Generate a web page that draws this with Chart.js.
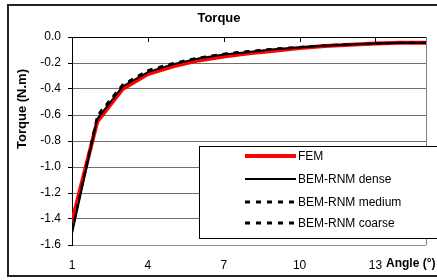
<!DOCTYPE html>
<html>
<head>
<meta charset="utf-8">
<script src="https://cdn.jsdelivr.net/npm/chart.js@4"></script>
<style>
	html, body { margin: 0; padding: 0; background: #fff; }
	#wrap { width: 437px; height: 280px; }
</style>
</head>
<body>
<div id="wrap"><canvas id="torqueChart" width="437" height="280"></canvas></div>
<script>
// Torque vs angle
const angles = [1, 2, 3, 4, 5, 6, 7, 8, 9, 10, 11, 12, 13, 14, 15];
const fem = [-1.42, -0.65, -0.40, -0.285, -0.225, -0.18, -0.15, -0.125, -0.105, -0.085, -0.07, -0.06, -0.05, -0.045, -0.045];
const dense = [-1.51, -0.63, -0.38, -0.27, -0.21, -0.165, -0.135, -0.115, -0.095, -0.08, -0.068, -0.058, -0.05, -0.045, -0.045];
const medium = [-1.50, -0.61, -0.37, -0.26, -0.205, -0.16, -0.13, -0.11, -0.09, -0.077, -0.065, -0.055, -0.05, -0.045, -0.045];
const coarse = [-1.49, -0.60, -0.365, -0.255, -0.20, -0.158, -0.128, -0.108, -0.09, -0.077, -0.065, -0.055, -0.05, -0.045, -0.045];
const seriesNames = ['FEM', 'BEM-RNM dense', 'BEM-RNM medium', 'BEM-RNM coarse'];
const xTicks = [1, 4, 7, 10, 13];
const yTicks = [0, -0.2, -0.4, -0.6, -0.8, -1.0, -1.2, -1.4, -1.6];

const FONT = '"Liberation Sans", Arial, sans-serif';
const pts = arr => angles.map((a, i) => ({ x: a, y: arr[i] }));

// frame, title, axis titles, top ticks, legend box
const decor = {
	id: 'decor',
	beforeDraw(chart) {
		const c = chart.ctx;
		c.save();
		c.fillStyle = '#fff';
		c.fillRect(0, 0, chart.width, chart.height);
		c.strokeStyle = '#222';
		c.lineWidth = 2;
		c.strokeRect(8, 5, 460, 271);
		c.restore();
	},
	afterDatasetsDraw(chart) {
		const c = chart.ctx;
		const a = chart.chartArea;
		const xs = chart.scales.x;
		c.save();
		// right border of plot area
		c.strokeStyle = '#808080';
		c.lineWidth = 1;
		c.beginPath();
		c.moveTo(a.right + 0.5, a.top);
		c.lineTo(a.right + 0.5, a.bottom);
		c.stroke();
		// x axis sits on y = 0 with ticks pointing down
		c.strokeStyle = '#000';
		c.beginPath();
		c.moveTo(a.left, a.top + 0.5);
		c.lineTo(a.right, a.top + 0.5);
		xTicks.slice(1).forEach(v => {
			const px = Math.round(xs.getPixelForValue(v)) + 0.5;
			c.moveTo(px, a.top);
			c.lineTo(px, a.top + 5);
		});
		c.stroke();

		// title
		c.fillStyle = '#000';
		c.font = 'bold 13px ' + FONT;
		c.textAlign = 'center';
		c.textBaseline = 'middle';
		c.fillText('Torque', 219, 18);
		// y title
		c.save();
		c.translate(22, 109);
		c.rotate(-Math.PI / 2);
		c.fillText('Torque (N.m)', 0, 0);
		c.restore();
		// x title next to last tick label
		c.font = 'bold 12px ' + FONT;
		c.textAlign = 'left';
		c.fillText('Angle (°)', 386, 264);

		// legend
		const lx = 199, ly = 146;
		c.fillStyle = '#fff';
		c.fillRect(lx, ly, 260, 92);
		c.strokeStyle = '#000';
		c.lineWidth = 1;
		c.strokeRect(lx + 0.5, ly + 0.5, 260, 92);
		const rows = [156, 179, 202, 223];
		chart.data.datasets.forEach((ds, i) => {
			const y = rows[i];
			c.beginPath();
			c.strokeStyle = ds.borderColor;
			c.lineWidth = ds.legendWidth;
			c.setLineDash(ds.borderDash || []);
			c.moveTo(245, y);
			c.lineTo(296, y);
			c.stroke();
			c.setLineDash([]);
			c.fillStyle = '#000';
			c.font = '12px ' + FONT;
			c.textAlign = 'left';
			c.fillText(ds.label, 298, y + 1);
		});
		c.restore();
	}
};

new Chart(document.getElementById('torqueChart'), {
	type: 'scatter',
	data: {
		datasets: [
			{ label: seriesNames[0], data: pts(fem), borderColor: '#ff0000', borderWidth: 4, legendWidth: 4, order: 4 },
			{ label: seriesNames[1], data: pts(dense), borderColor: '#000', borderWidth: 2, legendWidth: 2, order: 3 },
			{ label: seriesNames[2], data: pts(medium), borderColor: '#000', borderWidth: 2, borderDash: [5, 6], legendWidth: 3, order: 2 },
			{ label: seriesNames[3], data: pts(coarse), borderColor: '#000', borderWidth: 2, borderDash: [5, 6], legendWidth: 3, order: 1 }
		].map(d => Object.assign(d, { showLine: true, tension: 0, pointRadius: 0, pointHoverRadius: 0, fill: false }))
	},
	options: {
		responsive: false,
		animation: false,
		layout: { padding: { top: 37, right: 11, left: 0, bottom: 0 } },
		plugins: { legend: { display: false }, tooltip: { enabled: false }, title: { display: false } },
		scales: {
			x: {
				type: 'linear',
				min: 1,
				max: 15,
				afterFit: s => { s.height = 35; },
				afterBuildTicks: s => { s.ticks = xTicks.map(v => ({ value: v })); },
				grid: { display: false, drawTicks: false },
				border: { display: false },
				ticks: { color: '#000', font: { family: FONT, size: 12 }, padding: 13, maxRotation: 0,
					callback: v => String(v) }
			},
			y: {
				min: -1.6,
				max: 0,
				afterFit: s => { s.width = 72; },
				afterBuildTicks: s => { s.ticks = yTicks.map(v => ({ value: v })); },
				grid: {
					color: ctx => (ctx.tick && ctx.tick.value === 0) ? '#000' : (ctx.tick && ctx.tick.value <= -1.6 ? '#909090' : '#707070'),
					tickColor: '#000',
					tickLength: 4,
					lineWidth: 1
				},
				border: { display: true, color: '#000', width: 1 },
				ticks: { color: '#000', font: { family: FONT, size: 12 }, padding: 7,
					callback: v => v.toFixed(1) }
			}
		}
	},
	plugins: [decor]
});
</script>
</body>
</html>
